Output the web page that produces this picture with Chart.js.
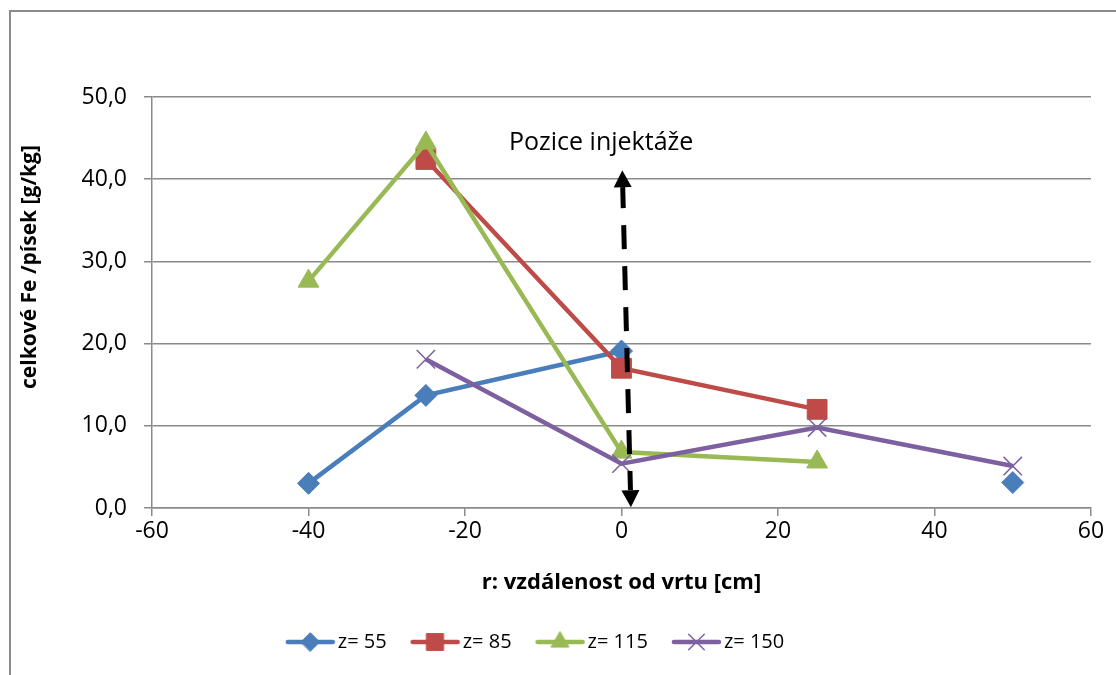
<!DOCTYPE html>
<html>
<head>
<meta charset="utf-8">
<script src="https://cdn.jsdelivr.net/npm/chart.js@4.4.0/dist/chart.umd.min.js"></script>
<style>
  html, body { margin: 0; padding: 0; background: #fff; overflow: hidden; }
  #frame { position: absolute; left: 9px; top: 10px; width: 1200px; height: 800px;
           border: 2px solid #8a8a8a; box-sizing: border-box; }
  #wrap { position: absolute; left: 0; top: 0; width: 1116px; height: 675px; }
</style>
</head>
<body>
<div id="frame"></div>
<div id="wrap"><canvas id="c"></canvas></div>
<script>
// r: distance from the well [cm]
const rValues = [-40, -25, 0, 25, 50];
// total Fe / sand [g/kg] for each depth z
const z55  = [3.0, 13.7, 19.1, null, 3.1];
const z85  = [null, 42.4, 17.0, 12.0, null];
const z115 = [27.6, 44.4, 6.8, 5.6, null];
const z150 = [null, 18.1, 5.4, 9.8, 5.1];
const seriesNames = ['z= 55', 'z= 85', 'z= 115', 'z= 150'];

// annotation: injection point arrow (r, value) and its label
const arrowTop = [0.1, 41.1];
const arrowBottom = [1.2, 0.1];
const noteText = 'Pozice injektáže';
const noteAt = [-2.6, 44.4];

const yTitle = 'celkové Fe /písek [g/kg]';
const xTitle = 'r: vzdálenost od vrtu [cm]';

const FONT = 'Open Sans';
const GRID = '#8a8a8a';
const LEGEND_PAD = 24;
const LEGEND_CENTER = 535;

function points(vals) {
  return rValues.map((r, i) => ({ x: r, y: vals[i] }));
}

// line + marker sample for the legend (box is 42 wide, image 58 wide centred on it)
function legendIcon(ds) {
  const c = document.createElement('canvas');
  c.width = 58; c.height = 26;
  const g = c.getContext('2d');
  g.strokeStyle = ds.borderColor;
  g.lineWidth = ds.borderWidth;
  g.lineCap = 'round';
  g.beginPath(); g.moveTo(10, 13); g.lineTo(55, 13); g.stroke();
  g.fillStyle = ds.pointBackgroundColor;
  g.strokeStyle = ds.pointBorderColor;
  g.lineWidth = ds.pointBorderWidth;
  Chart.helpers.drawPoint(g, {
    pointStyle: ds.pointStyle, radius: ds.pointRadius * 0.85,
    rotation: 0, borderWidth: ds.pointBorderWidth
  }, 32.5, 13);
  return c;
}

const extras = {
  id: 'extras',
  afterLayout(chart) {
    const lg = chart.legend;
    const shift = LEGEND_CENTER - (lg.left + lg.right) / 2;
    lg.left += shift;
    lg.right += shift;
  },
  afterDatasetsDraw(chart) {
    const ctx = chart.ctx, xs = chart.scales.x, ys = chart.scales.y;
    const x1 = xs.getPixelForValue(arrowTop[0]), y1 = ys.getPixelForValue(arrowTop[1]);
    const x2 = xs.getPixelForValue(arrowBottom[0]), y2 = ys.getPixelForValue(arrowBottom[1]);
    const len = Math.hypot(x2 - x1, y2 - y1);
    const ux = (x2 - x1) / len, uy = (y2 - y1) / len;
    const head = 17, half = 9;
    ctx.save();
    ctx.strokeStyle = '#000';
    ctx.fillStyle = '#000';
    ctx.lineWidth = 5;
    ctx.setLineDash([24, 17]);
    ctx.lineDashOffset = 3;
    ctx.beginPath();
    ctx.moveTo(x1 + ux * head, y1 + uy * head);
    ctx.lineTo(x2 - ux * head, y2 - uy * head);
    ctx.stroke();
    ctx.setLineDash([]);
    [[x1, y1, 1], [x2, y2, -1]].forEach(([tx, ty, s]) => {
      const bx = tx + s * ux * head, by = ty + s * uy * head;
      ctx.beginPath();
      ctx.moveTo(tx, ty);
      ctx.lineTo(bx - uy * half, by + ux * half);
      ctx.lineTo(bx + uy * half, by - ux * half);
      ctx.closePath();
      ctx.fill();
    });
    ctx.font = '25px "' + FONT + '"';
    ctx.textAlign = 'center';
    ctx.textBaseline = 'middle';
    ctx.fillText(noteText, xs.getPixelForValue(noteAt[0]), ys.getPixelForValue(noteAt[1]));
    ctx.restore();
  },
  afterDraw(chart) {
    const ctx = chart.ctx;
    ctx.save();
    ctx.translate(30, 267);
    ctx.rotate(-Math.PI / 2);
    ctx.font = 'bold 21px "' + FONT + '"';
    ctx.fillStyle = '#000';
    ctx.textAlign = 'center';
    ctx.textBaseline = 'middle';
    ctx.fillText(yTitle, 0, 0);
    ctx.restore();
  }
};

const styles = [
  { color: '#4a7ebb', pointStyle: 'rectRot', radius: 11, bw: 1 },
  { color: '#be4b48', pointStyle: 'rect', radius: 14, bw: 1 },
  { color: '#98b954', pointStyle: 'triangle', radius: 12, bw: 1 },
  { color: '#7d60a0', pointStyle: 'crossRot', radius: 13, bw: 1.5 }
];
const allSeries = [z55, z85, z115, z150];

const datasets = allSeries.map((vals, i) => ({
  label: seriesNames[i],
  data: points(vals),
  borderColor: styles[i].color,
  backgroundColor: styles[i].color,
  borderWidth: 4.5,
  pointStyle: styles[i].pointStyle,
  pointRadius: styles[i].radius,
  pointHoverRadius: styles[i].radius,
  pointBackgroundColor: styles[i].color,
  pointBorderColor: styles[i].color,
  pointBorderWidth: styles[i].bw,
  spanGaps: false,
  tension: 0,
  order: allSeries.length - 1 - i
}));

new Chart(document.getElementById('c'), {
  type: 'line',
  data: { datasets },
  plugins: [extras],
  options: {
    responsive: true,
    maintainAspectRatio: false,
    animation: false,
    layout: { padding: { left: 50, right: 25, top: 97, bottom: 13 } },
    scales: {
      x: {
        type: 'linear',
        min: -60, max: 60,
        ticks: { stepSize: 20, color: '#000', font: { family: FONT, size: 23 }, padding: 2 },
        grid: { drawOnChartArea: false, color: GRID, lineWidth: 1.5, tickLength: 8 },
        border: { color: GRID, width: 1.5 },
        title: {
          display: true, text: xTitle, color: '#000',
          font: { family: FONT, size: 22, weight: 'bold' },
          padding: { top: 4, bottom: 12 }
        },
        afterFit(scale) { scale.height = 124 - LEGEND_PAD; }
      },
      y: {
        min: 0, max: 50,
        ticks: {
          stepSize: 10, color: '#000', font: { family: FONT, size: 23 }, padding: 17,
          callback: v => v.toFixed(1).replace('.', ',')
        },
        grid: { color: GRID, lineWidth: 1.5, tickLength: 8 },
        border: { color: GRID, width: 1.5 },
        afterFit(scale) { scale.width = 102; }
      }
    },
    plugins: {
      tooltip: { enabled: false },
      legend: {
        position: 'bottom',
        labels: {
          usePointStyle: true,
          pointStyleWidth: 42,
          padding: LEGEND_PAD,
          color: '#000',
          font: { family: FONT, size: 20 },
          generateLabels(chart) {
            const items = Chart.defaults.plugins.legend.labels.generateLabels(chart);
            items.sort((a, b) => a.datasetIndex - b.datasetIndex);
            items.forEach(it => { it.pointStyle = legendIcon(chart.data.datasets[it.datasetIndex]); });
            return items;
          }
        }
      }
    }
  }
});
</script>
</body>
</html>
